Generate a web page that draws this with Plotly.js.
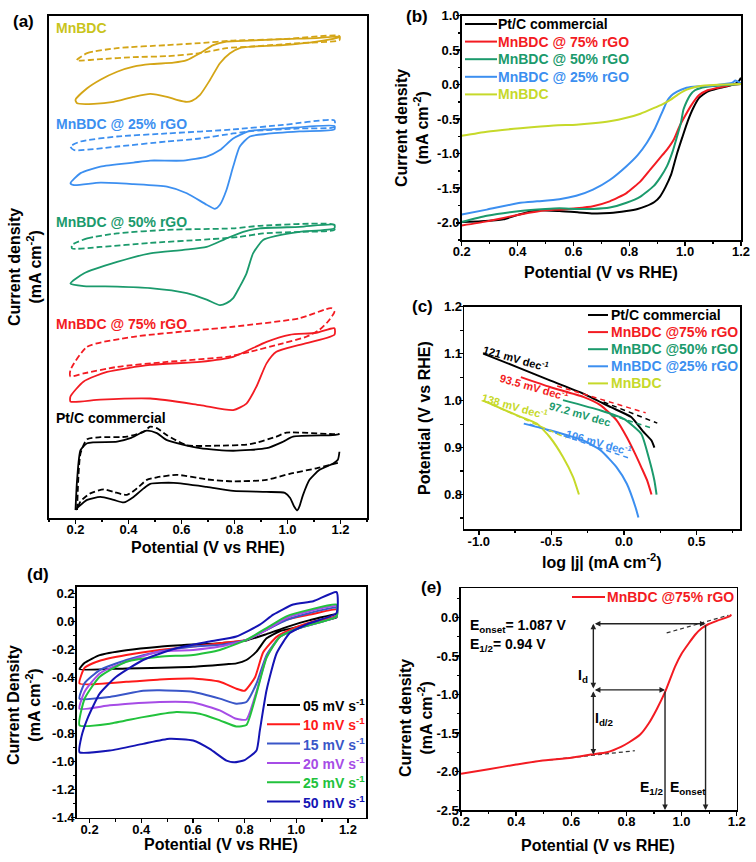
<!DOCTYPE html>
<html><head><meta charset="utf-8">
<script src="https://cdn.plot.ly/plotly-3.0.1.min.js"></script>
<style>html,body{margin:0;padding:0;background:#fff}#chart{width:756px;height:862px}</style>
</head><body><div id="chart"></div>
<script>
// ---------- Panel (a): CVs, stacked current (arbitrary offset units) ----------
const aMnSolidUpV = [0.200,0.244,0.294,0.357,0.419,0.482,0.570,0.620,0.670,0.720,0.770,0.858,0.983,1.109,1.196];
const aMnSolidUpI = [83.3,85.6,87.3,88.9,89.9,90.4,90.7,91.2,92.6,94.2,94.9,95.1,95.4,95.6,95.9];
const aMnSolidDnV = [1.196,1.109,0.983,0.870,0.820,0.783,0.745,0.708,0.670,0.639,0.620,0.582,0.545,0.482,0.419,0.344,0.269,0.206];
const aMnSolidDnI = [95.8,94.9,94.2,93.9,93.6,92.6,90.6,87.3,84.3,83.1,82.9,83.3,83.9,84.5,83.9,82.9,82.5,82.6];
const aMnDashUpV = [0.204,0.244,0.357,0.545,0.670,0.795,0.983,1.196];
const aMnDashUpI = [91.2,92.6,93.6,94.2,94.6,95.1,95.4,96.0];
const aMnDashDnV = [1.196,1.046,0.858,0.770,0.670,0.545,0.419,0.294,0.210];
const aMnDashDnI = [95.2,94.6,93.9,93.6,92.6,92.0,91.8,91.4,91.1];

const a25SolidUpV = [0.181,0.219,0.294,0.419,0.482,0.607,0.695,0.745,0.795,0.858,0.983,1.177];
const a25SolidUpI = [66.7,68.7,70.0,70.8,71.2,71.2,72.0,73.3,75.6,77.1,77.6,78.1];
const a25SolidDnV = [1.177,1.046,0.921,0.858,0.820,0.795,0.770,0.745,0.726,0.695,0.620,0.545,0.419,0.294,0.194];
const a25SolidDnI = [77.4,77.0,76.5,76.0,74.0,70.0,65.4,62.4,61.6,62.4,64.7,66.0,66.5,66.8,66.3];
const a25DashUpV = [0.181,0.219,0.357,0.545,0.795,0.983,1.177];
const a25DashUpI = [74.0,75.0,76.0,76.6,77.4,78.3,79.2];
const a25DashDnV = [1.177,1.046,0.870,0.795,0.670,0.545,0.357,0.194];
const a25DashDnI = [77.9,77.6,77.1,76.6,75.6,75.0,74.0,73.3];

const a50SolidUpV = [0.181,0.231,0.357,0.482,0.607,0.695,0.770,0.833,0.895,1.046,1.177];
const a50SolidUpI = [46.7,48.7,51.0,52.7,53.4,54.0,55.7,57.0,57.7,58.0,58.4];
const a50SolidDnV = [1.177,1.046,0.958,0.908,0.870,0.845,0.820,0.795,0.770,0.745,0.695,0.620,0.482,0.357,0.231];
const a50SolidDnI = [57.7,57.0,56.2,55.4,52.7,48.7,46.1,43.8,42.8,42.4,43.5,44.8,45.8,46.1,46.2];
const a50DashUpV = [0.187,0.244,0.357,0.545,0.795,0.895,1.177];
const a50DashUpI = [54.4,55.7,56.7,57.4,57.7,58.2,58.4];
const a50DashDnV = [1.177,1.046,0.908,0.820,0.670,0.482,0.294,0.187];
const a50DashDnI = [57.4,57.0,56.7,56.0,55.4,54.8,54.0,53.7];

const a75SolidUpV = [0.181,0.231,0.319,0.482,0.670,0.795,0.921,1.008,1.109,1.177];
const a75SolidUpI = [24.2,27.2,29.1,30.5,31.1,32.1,35.1,36.5,36.9,37.8];
const a75SolidDnV = [1.177,1.046,0.958,0.921,0.883,0.845,0.795,0.670,0.482,0.294,0.181];
const a75SolidDnI = [36.5,34.5,33.1,30.8,26.2,22.8,21.5,22.5,23.8,23.6,23.2];
const a75DashUpV = [0.181,0.244,0.419,0.795,1.046,1.165,1.177];
const a75DashUpI = [29.5,34.1,36.1,38.1,39.8,41.8,41.1];
const a75DashDnV = [1.152,1.121,1.071,0.983,0.858,0.770,0.545,0.357,0.231,0.181];
const a75DashDnI = [39.1,37.5,36.1,34.8,33.1,32.1,31.1,30.1,28.8,28.2];

const aPtSolidUpV = [0.200,0.206,0.219,0.244,0.357,0.407,0.469,0.507,0.545,0.670,0.795,0.921,0.983,1.021,1.171,1.196];
const aPtSolidUpI = [1.6,7.6,13.5,14.9,15.2,15.9,17.4,16.9,15.5,13.9,13.4,13.9,15.2,16.2,16.5,16.7];
const aPtSolidDnV = [1.196,1.190,1.171,1.121,1.083,1.058,1.045,1.037,1.025,1.010,0.990,0.921,0.795,0.695,0.570,0.482,0.457,0.419,0.382,0.344,0.294,0.244,0.213,0.200];
const aPtSolidDnI = [13.2,11.6,10.8,9.6,7.6,4.5,2.3,1.5,2.3,4.0,5.0,5.2,5.4,6.2,7.0,6.8,5.9,4.2,3.1,3.6,4.2,3.6,2.3,1.6];
const aPtDashUpV = [0.206,0.219,0.244,0.294,0.394,0.457,0.482,0.507,0.545,0.620,0.733,0.858,0.958,0.996,1.171,1.196];
const aPtDashUpI = [1.6,12.9,15.7,16.1,16.2,17.2,18.2,17.9,16.5,14.5,14.4,14.7,16.2,17.0,16.7,16.7];
const aPtDashDnV = [1.190,1.109,1.008,0.921,0.795,0.695,0.582,0.507,0.469,0.432,0.394,0.344,0.307,0.256,0.219,0.206];
const aPtDashDnI = [11.0,9.9,8.8,7.6,7.3,7.7,8.6,8.1,7.6,5.9,4.6,5.2,5.7,4.9,3.3,1.6];

const aLabels = ['MnBDC','MnBDC @ 25% rGO','MnBDC @ 50% rGO','MnBDC @ 75% rGO','Pt/C commercial'];
const aLabelY = [97.6,78.5,58.9,38.6,20.0];

// ---------- Panel (b): LSV ----------
const bNames = ['Pt/C commercial','MnBDC @ 75% rGO','MnBDC @ 50% rGO','MnBDC @ 25% rGO','MnBDC'];
const bPtV = [0.2,0.27,0.35,0.39,0.47,0.55,0.62,0.67,0.73,0.79,0.83,0.86,0.89,0.91,0.93,0.95,0.97,0.99,1.01,1.03,1.05,1.08,1.12,1.17,1.19,1.2];
const bPtJ = [-1.99,-1.98,-1.95,-1.90,-1.82,-1.83,-1.85,-1.866,-1.86,-1.83,-1.80,-1.76,-1.70,-1.62,-1.48,-1.30,-1.01,-0.76,-0.52,-0.33,-0.19,-0.10,-0.05,0.0,0.04,0.1];
const b75V = [0.2,0.29,0.41,0.50,0.55,0.61,0.67,0.73,0.79,0.84,0.875,0.91,0.935,0.96,0.98,1.0,1.02,1.05,1.08,1.11,1.17,1.2];
const b75J = [-2.04,-1.98,-1.88,-1.82,-1.81,-1.79,-1.76,-1.69,-1.57,-1.40,-1.23,-1.06,-0.94,-0.79,-0.60,-0.45,-0.31,-0.15,-0.08,-0.05,0.0,0.01];
const b50V = [0.2,0.29,0.41,0.50,0.55,0.61,0.67,0.73,0.79,0.84,0.887,0.91,0.935,0.955,0.971,0.985,0.994,1.006,1.018,1.035,1.054,1.10,1.17,1.2];
const b50J = [-1.99,-1.90,-1.83,-1.80,-1.79,-1.80,-1.80,-1.78,-1.71,-1.62,-1.47,-1.35,-1.18,-0.97,-0.75,-0.55,-0.36,-0.24,-0.15,-0.08,-0.05,-0.02,0.0,0.01];
const b25V = [0.2,0.29,0.41,0.47,0.55,0.61,0.67,0.73,0.79,0.83,0.863,0.89,0.911,0.925,0.935,0.95,0.971,1.0,1.03,1.1,1.17,1.18,1.2];
const b25J = [-1.88,-1.81,-1.71,-1.69,-1.66,-1.61,-1.52,-1.38,-1.18,-1.02,-0.84,-0.65,-0.46,-0.33,-0.24,-0.16,-0.10,-0.05,-0.03,-0.01,0.03,0.06,0.02];
const bMnV = [0.2,0.29,0.41,0.53,0.61,0.67,0.73,0.79,0.84,0.887,0.92,0.947,0.975,1.006,1.04,1.07,1.12,1.2];
const bMnJ = [-0.74,-0.68,-0.63,-0.59,-0.58,-0.56,-0.53,-0.48,-0.42,-0.34,-0.28,-0.22,-0.14,-0.07,-0.03,-0.01,0.0,0.01];

// ---------- Panel (c): Tafel ----------
const cNames = ['Pt/C commercial','MnBDC @75% rGO','MnBDC @50% rGO','MnBDC @25% rGO','MnBDC'];
const cPtX = [-0.97,-0.74,-0.51,-0.28,-0.09,0.05,0.13,0.19,0.21];
const cPtY = [1.100,1.072,1.043,1.015,0.986,0.965,0.935,0.915,0.900];
const c75X = [-0.71,-0.51,-0.28,-0.16,-0.05,0.02,0.08,0.12,0.16,0.19];
const c75Y = [1.050,1.029,1.008,0.990,0.958,0.922,0.885,0.858,0.830,0.800];
const c50X = [-0.42,-0.16,0.0,0.12,0.17,0.21,0.225];
const c50Y = [1.001,0.979,0.961,0.929,0.880,0.830,0.800];
const c25X = [-0.69,-0.51,-0.28,-0.16,-0.05,0.02,0.08,0.10];
const c25Y = [0.951,0.937,0.915,0.894,0.858,0.823,0.773,0.751];
const cMnX = [-0.97,-0.74,-0.60,-0.51,-0.42,-0.35,-0.31];
const cMnY = [1.000,0.969,0.951,0.922,0.880,0.837,0.800];
// Tafel fit segments (end points)
const cFitPtX = [-0.14,0.23], cFitPtY = [0.997,0.952];
const cFit75X = [-0.46,0.15], cFit75Y = [1.031,0.974];
const cFit50X = [-0.09,0.20], cFit50Y = [0.969,0.941];
const cFit25X = [-0.65,0.05], cFit25Y = [0.950,0.876];
const cFitMnX = [-0.97,-0.40], cFitMnY = [1.000,0.921];
const cSlopeText = ['121 mV dec<sup>-1</sup>','93.5 mV dec<sup>-1</sup>','97.2 mV dec','106 mV dec<sup>-1</sup>','138 mV dec<sup>-1</sup>'];
const cSlopeX = [-0.747,-0.614,-0.305,-0.175,-0.752];
const cSlopeY = [1.090,1.029,0.971,0.912,0.988];

// ---------- Panel (d): CVs at scan rates ----------
const dNames = ['05 mV s<sup>-1</sup>','10 mV s<sup>-1</sup>','15 mV s<sup>-1</sup>','20 mV s<sup>-1</sup>','25 mV s<sup>-1</sup>','50 mV s<sup>-1</sup>'];
const dUpV = [1.156,1.053,0.962,0.885,0.807,0.704,0.601,0.471,0.342,0.239,0.181,0.161];
const d05LoV = [0.161,0.342,0.601,0.730,0.768,0.807,0.846,0.885,0.936,1.014,1.117,1.156];
const d05LoJ = [-0.340,-0.335,-0.323,-0.305,-0.299,-0.275,-0.215,-0.120,-0.070,-0.035,0.010,0.030];
const d05UpJ = [0.050,0.010,-0.040,-0.090,-0.135,-0.155,-0.165,-0.180,-0.205,-0.240,-0.295,-0.340];
const d10LoV = [0.161,0.342,0.471,0.601,0.704,0.768,0.800,0.840,0.872,0.924,0.988,1.066,1.156];
const d10LoJ = [-0.443,-0.431,-0.414,-0.407,-0.431,-0.480,-0.495,-0.400,-0.220,-0.110,-0.050,0.000,0.040];
const d10UpJ = [0.085,0.049,0.013,-0.059,-0.131,-0.155,-0.179,-0.203,-0.239,-0.280,-0.330,-0.443];
const d15LoV = [0.161,0.278,0.407,0.471,0.601,0.704,0.768,0.807,0.846,0.885,0.936,1.014,1.156];
const d15LoJ = [-0.551,-0.539,-0.495,-0.491,-0.503,-0.551,-0.587,-0.575,-0.443,-0.240,-0.110,-0.045,0.037];
const d15UpJ = [0.097,0.061,0.010,-0.059,-0.131,-0.167,-0.179,-0.215,-0.275,-0.347,-0.440,-0.551];
const d20LoV = [0.161,0.278,0.471,0.601,0.704,0.768,0.807,0.846,0.885,0.936,1.014,1.156];
const d20LoJ = [-0.623,-0.599,-0.575,-0.579,-0.635,-0.695,-0.700,-0.500,-0.255,-0.110,-0.045,0.037];
const d20UpJ = [0.109,0.075,0.025,-0.059,-0.131,-0.179,-0.203,-0.215,-0.287,-0.371,-0.500,-0.623];
const d25LoV = [0.161,0.278,0.407,0.536,0.626,0.704,0.768,0.807,0.846,0.885,0.936,1.014,1.156];
const d25LoJ = [-0.742,-0.730,-0.683,-0.647,-0.659,-0.706,-0.750,-0.740,-0.515,-0.260,-0.110,-0.045,0.037];
const d25UpJ = [0.121,0.085,0.037,-0.047,-0.131,-0.203,-0.239,-0.251,-0.287,-0.395,-0.550,-0.742];
const d50LoV = [0.161,0.278,0.407,0.510,0.601,0.665,0.730,0.760,0.800,0.846,0.859,0.885,0.924,0.975,1.053,1.156];
const d50LoJ = [-0.934,-0.922,-0.874,-0.838,-0.850,-0.910,-0.994,-1.006,-0.990,-0.922,-0.778,-0.491,-0.227,-0.083,-0.011,0.061];
const d50UpV = [1.156,1.066,0.988,0.911,0.859,0.768,0.665,0.536,0.407,0.303,0.239,0.194,0.168,0.161];
const d50UpJ = [0.210,0.145,0.121,0.049,-0.023,-0.107,-0.143,-0.191,-0.275,-0.395,-0.515,-0.683,-0.826,-0.934];

// ---------- Panel (e): LSV MnBDC @75% rGO with E_onset / E_1/2 ----------
const eName = 'MnBDC @75% rGO';
const eV = [0.2,0.3,0.4,0.49,0.6,0.67,0.73,0.78,0.81,0.85,0.88,0.91,0.94,0.976,1.0,1.025,1.05,1.073,1.097,1.13,1.176,1.18];
const eJ = [-2.03,-1.97,-1.91,-1.86,-1.82,-1.78,-1.75,-1.68,-1.62,-1.52,-1.38,-1.19,-0.97,-0.64,-0.47,-0.34,-0.22,-0.14,-0.087,-0.04,0.02,0.04];
const eOnset = 1.087, eHalf = 0.94, eJTop = -0.08, eJHalf = -0.94, eJLim = -1.78, eXId = 0.68;
const eTanTopV = [0.946,1.17], eTanTopJ = [-0.20,0.03];
const eTanBotV = [0.52,0.831], eTanBotJ = [-1.85,-1.73];

// ---------- tick labels ----------
const potTicks = [0.2,0.4,0.6,0.8,1.0,1.2];
const bYTicks = [1.0,0.5,0.0,-0.5,-1.0,-1.5,-2.0];
const cXTicks = [-1.0,-0.5,0.0,0.5];
const cYTicks = [0.8,0.9,1.0,1.1,1.2];
const dYTicks = [0.2,0.0,-0.2,-0.4,-0.6,-0.8,-1.0,-1.2,-1.4];
const eYTicks = [0.0,-0.5,-1.0,-1.5,-2.0,-2.5];

// ================= build =================
const FONT = '"Liberation Sans", Arial, Helvetica, sans-serif';
function fnt(size, color){ return {family: FONT, size: size, color: color || '#000000', weight: 'bold'}; }
function P(x){ return x/756; }
function Q(y){ return 1 - y/862; }
function tt(v){ return v.map(t => '<b>' + t.toFixed(1) + '</b>'); }

const C_PT='#000000', C_75='#f31b22', C_50='#1b9a6c', C_25='#3c8ff0', C_MN_A='#d4a516', C_MN_A_LBL='#c9c41c', C_MN='#c6d92a';

const traces = [];
function loop(upV, upI, dnV, dnI, color, dash, close, brk){
  let x = upV.slice(), y = upI.slice();
  if (brk){ x.push(null); y.push(null); }
  x = x.concat(dnV); y = y.concat(dnI);
  if (close){ x.push(upV[0]); y.push(upI[0]); }
  traces.push({type:'scatter', mode:'lines', x:x, y:y, xaxis:'x', yaxis:'y', showlegend:false,
    line:{color:color, width:1.8, dash: dash ? '6px,3px' : 'solid', shape:'spline', smoothing:0.6}, hoverinfo:'skip'});
}
loop(aMnSolidUpV,aMnSolidUpI,aMnSolidDnV,aMnSolidDnI,C_MN_A,false,true,false);
loop(aMnDashUpV,aMnDashUpI,aMnDashDnV,aMnDashDnI,C_MN_A,true,true,false);
loop(a25SolidUpV,a25SolidUpI,a25SolidDnV,a25SolidDnI,C_25,false,true,false);
loop(a25DashUpV,a25DashUpI,a25DashDnV,a25DashDnI,C_25,true,true,false);
loop(a50SolidUpV,a50SolidUpI,a50SolidDnV,a50SolidDnI,C_50,false,true,false);
loop(a50DashUpV,a50DashUpI,a50DashDnV,a50DashDnI,C_50,true,true,false);
loop(a75SolidUpV,a75SolidUpI,a75SolidDnV,a75SolidDnI,C_75,false,true,false);
loop(a75DashUpV,a75DashUpI,a75DashDnV,a75DashDnI,C_75,true,true,false);
loop(aPtSolidUpV,aPtSolidUpI,aPtSolidDnV,aPtSolidDnI,C_PT,false,false,true);
loop(aPtDashUpV,aPtDashUpI,aPtDashDnV,aPtDashDnI,C_PT,true,false,true);

// (b)
const bColors = [C_PT,C_75,C_50,C_25,C_MN];
const bSeries = [[bPtV,bPtJ],[b75V,b75J],[b50V,b50J],[b25V,b25J],[bMnV,bMnJ]];
bSeries.forEach((s,i)=>{
  traces.push({type:'scatter', mode:'lines', x:s[0], y:s[1], xaxis:'x2', yaxis:'y2', showlegend:false,
    name: bNames[i], line:{color:bColors[i], width:2, shape:'spline', smoothing:0.5}, hoverinfo:'skip'});
});
// (c)
const cColors = [C_PT,C_75,C_50,C_25,C_MN];
const cSeries = [[cPtX,cPtY,cFitPtX,cFitPtY],[c75X,c75Y,cFit75X,cFit75Y],[c50X,c50Y,cFit50X,cFit50Y],[c25X,c25Y,cFit25X,cFit25Y],[cMnX,cMnY,cFitMnX,cFitMnY]];
cSeries.forEach((s,i)=>{
  traces.push({type:'scatter', mode:'lines', x:s[0], y:s[1], xaxis:'x3', yaxis:'y3', showlegend:false,
    name: cNames[i], line:{color:cColors[i], width:2, shape:'spline', smoothing:0.5}, hoverinfo:'skip'});
});
cSeries.forEach((s,i)=>{
  traces.push({type:'scatter', mode:'lines', x:s[2], y:s[3], xaxis:'x3', yaxis:'y3', showlegend:false,
    line:{color:cColors[i], width:1.5, dash:'5px,4px'}, hoverinfo:'skip'});
});
// (d)
const dColors = ['#000000','#ff1a1a','#3a56c8','#a64ce6','#22c23c','#1414b4'];
const dSeries = [[d05LoV,d05LoJ,dUpV,d05UpJ],[d10LoV,d10LoJ,dUpV,d10UpJ],[d15LoV,d15LoJ,dUpV,d15UpJ],[d20LoV,d20LoJ,dUpV,d20UpJ],[d25LoV,d25LoJ,dUpV,d25UpJ],[d50LoV,d50LoJ,d50UpV,d50UpJ]];
dSeries.forEach((s,i)=>{
  traces.push({type:'scatter', mode:'lines', x:s[0].concat(s[2]), y:s[1].concat(s[3]), xaxis:'x4', yaxis:'y4', showlegend:false,
    name: dNames[i], line:{color:dColors[i], width:2, shape:'spline', smoothing:0.5}, hoverinfo:'skip'});
});
// (e)
traces.push({type:'scatter', mode:'lines', x:eTanTopV, y:eTanTopJ, xaxis:'x5', yaxis:'y5', showlegend:false, line:{color:'#333', width:1.2, dash:'4px,3px'}, hoverinfo:'skip'});
traces.push({type:'scatter', mode:'lines', x:eTanBotV, y:eTanBotJ, xaxis:'x5', yaxis:'y5', showlegend:false, line:{color:'#333', width:1.2, dash:'4px,3px'}, hoverinfo:'skip'});
traces.push({type:'scatter', mode:'lines', x:eV, y:eJ, xaxis:'x5', yaxis:'y5', showlegend:false,
  name: eName, line:{color:C_75, width:2, shape:'spline', smoothing:0.5}, hoverinfo:'skip'});

// axes
const base = {showline:true, linecolor:'#000', linewidth:1.6, mirror:true, ticks:'outside', ticklen:4, tickwidth:1.5,
  tickcolor:'#000', showgrid:false, zeroline:false, tickfont:fnt(13), fixedrange:true};
function ax(o){ return Object.assign({}, base, o); }
function minor(t0, d){ return {ticks:'outside', ticklen:2.5, tickwidth:1.2, tickcolor:'#000', tickmode:'linear', tick0:t0, dtick:d, showgrid:false}; }
function xTicks(v){ return {tickmode:'array', tickvals:v, ticktext:tt(v), ticklabelstandoff:-5}; }
function yTicks(v){ return {tickmode:'array', tickvals:v, ticktext:tt(v), ticklabelstandoff:-6}; }

const layout = {
  width:756, height:862, margin:{l:0,r:0,t:0,b:0}, paper_bgcolor:'#fff', plot_bgcolor:'#fff',
  font: fnt(13), showlegend:false,
  xaxis: ax(Object.assign({domain:[P(49),P(367)], anchor:'y', range:[0.1,1.3], minor:minor(0.1,0.1)}, xTicks(potTicks))),
  yaxis: ax({domain:[Q(518),Q(16)], anchor:'x', range:[0,100], showticklabels:false, ticks:''}),
  xaxis2: ax(Object.assign({domain:[P(461.7),P(741)], anchor:'y2', range:[0.2,1.2], minor:minor(0.1,0.1)}, xTicks(potTicks))),
  yaxis2: ax(Object.assign({domain:[Q(240),Q(15.7)], anchor:'x2', range:[-2.25,1.0], minor:minor(0,0.25)}, yTicks(bYTicks))),
  xaxis3: ax(Object.assign({domain:[P(464.3),P(740)], anchor:'y3', range:[-1.1,0.8], minor:minor(0,0.25)}, xTicks(cXTicks))),
  yaxis3: ax(Object.assign({domain:[Q(529.3),Q(306.7)], anchor:'x3', range:[0.726,1.2], minor:minor(0,0.05)}, yTicks(cYTicks))),
  xaxis4: ax(Object.assign({domain:[P(76.7),P(366)], anchor:'y4', range:[0.15,1.27], minor:minor(0.1,0.1)}, xTicks(potTicks))),
  yaxis4: ax(Object.assign({domain:[Q(817.5),Q(586.5)], anchor:'x4', range:[-1.4,0.25], minor:minor(0,0.1)}, yTicks(dYTicks))),
  xaxis5: ax(Object.assign({domain:[P(461),P(736.7)], anchor:'y5', range:[0.2,1.2], minor:minor(0.1,0.1)}, xTicks(potTicks))),
  yaxis5: ax(Object.assign({domain:[Q(810),Q(588.3)], anchor:'x5', range:[-2.5,0.38], minor:minor(0,0.25)}, yTicks(eYTicks))),
  shapes: [],
  annotations: []
};
const A = layout.annotations, S = layout.shapes;
function txt(t, x, y, size, o){ A.push(Object.assign({text:t, x:x, y:y, xref:'paper', yref:'paper', xanchor:'center', yanchor:'middle', showarrow:false, font:fnt(size)}, o||{})); }

// legends (drawn as line keys + coloured labels, with the original's tight row spacing)
function manualLegend(names, colors, x0, x1, xt, y0, dy){
  names.forEach((n,i)=>{
    const y = y0 + i*dy;
    S.push({type:'line', xref:'paper', yref:'paper', x0:P(x0), x1:P(x1), y0:Q(y), y1:Q(y), line:{color:colors[i], width:2}});
    A.push({text:n, x:P(xt), y:Q(y), xref:'paper', yref:'paper', xanchor:'left', yanchor:'middle', showarrow:false, borderpad:0, font:fnt(14, colors[i])});
  });
}
manualLegend(bNames, bColors, 465, 497, 497, 24, 17.6);
manualLegend(cNames, cColors, 588, 608, 610, 315, 17.1);
manualLegend(dNames, dColors, 267, 300, 302, 705, 19.3);
manualLegend([eName], [C_75], 572, 605, 606, 597, 0);

// panel labels
txt('(a)', P(23), Q(21), 17); txt('(b)', P(417), Q(16), 17); txt('(c)', P(422), Q(307), 17);
txt('(d)', P(38), Q(574), 17); txt('(e)', P(431), Q(587), 17);
// axis titles
const potT = 'Potential (V vs RHE)';
txt(potT, P(208), Q(547), 16);
txt('Current density<br>(mA cm<sup>-2</sup>)', P(25), Q(267), 16, {textangle:-90});
txt(potT, P(601), Q(272), 16);
txt('Current density<br>(mA cm<sup>-2</sup>)', P(412), Q(128), 16, {textangle:-90});
txt('log |j| (mA cm<sup>-2</sup>)', P(602), Q(561), 16);
txt(potT, P(425), Q(418), 16, {textangle:-90});
txt(potT, P(221), Q(844), 16);
txt('Current Density<br>(mA cm<sup>-2</sup>)', P(24), Q(705), 16, {textangle:-90});
txt(potT, P(598), Q(845), 16);
txt('Current density<br>(mA cm<sup>-2</sup>)', P(416), Q(718), 16, {textangle:-90});
// (a) curve labels
const aLblColors = [C_MN_A_LBL, C_25, C_50, C_75, C_PT];
aLabels.forEach((t,i)=>{ A.push({text:t, x:0.117, y:aLabelY[i], xref:'x', yref:'y', xanchor:'left', yanchor:'middle', showarrow:false, font:fnt(14, aLblColors[i])}); });
// (c) slope labels
cSlopeText.forEach((t,i)=>{ A.push({text:t, x:cSlopeX[i], y:cSlopeY[i], xref:'x3', yref:'y3', xanchor:'center', yanchor:'middle', showarrow:false, textangle:16, font:fnt(11, cColors[i])}); });
// (e) construction arrows
const yBot = layout.yaxis5.range[0];
function arr(x, y, axv, ayv, side){ A.push({x:x, y:y, ax:axv, ay:ayv, xref:'x5', yref:'y5', axref:'x5', ayref:'y5', text:'', showarrow:true,
  arrowhead:2, arrowside:side, arrowsize:0.8, arrowwidth:1.4, arrowcolor:'#222', startarrowhead:2, startarrowsize:0.8, standoff:0, startstandoff:0}); }
arr(eOnset, eJTop, eXId, eJTop, 'end+start');
arr(eXId, eJTop, eXId, eJHalf, 'end+start');
arr(eXId, eJLim, eXId, eJHalf, 'end+start');
arr(eHalf, eJHalf, eXId, eJHalf, 'end+start');
arr(eHalf, yBot, eHalf, eJHalf, 'end');
arr(eOnset, yBot, eOnset, eJTop, 'end');
function etxt(t, x, y, o){ A.push(Object.assign({text:t, x:x, y:y, xref:'x5', yref:'y5', xanchor:'center', yanchor:'middle', showarrow:false, font:fnt(14)}, o||{})); }
etxt('E<sub>onset</sub>= ' + eOnset.toFixed(3) + ' V', 0.226, -0.11, {xanchor:'left'});
etxt('E<sub>1/2</sub>= ' + eHalf.toFixed(2) + ' V', 0.226, -0.36, {xanchor:'left'});
etxt('I<sub>d</sub>', 0.644, -0.76);
etxt('I<sub>d/2</sub>', 0.72, -1.32);
etxt('E<sub>1/2</sub>', 0.893, -2.22);
etxt('E<sub>onset</sub>', 1.023, -2.22);

Plotly.newPlot('chart', traces, layout, {staticPlot:true, displayModeBar:false});
</script></body></html>
